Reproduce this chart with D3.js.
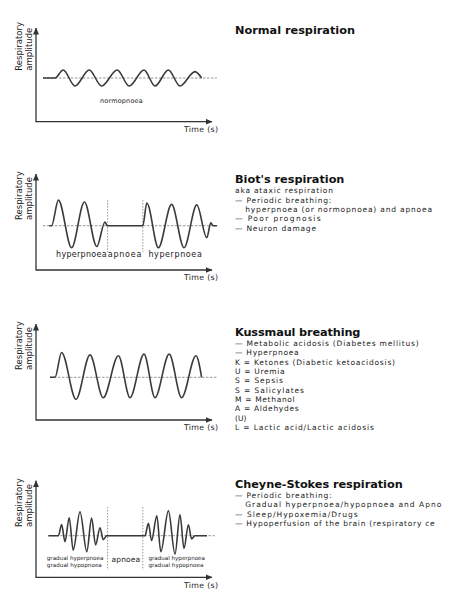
<!DOCTYPE html>
<html><head><meta charset="utf-8">
<script src="https://cdn.jsdelivr.net/npm/d3@7"></script>
<style>html,body{margin:0;padding:0;background:#fff;}svg{display:block;}</style>
</head><body>
<script>
// ---------------- DATA ----------------
// time in seconds, amplitude in "normal breath" units
const normalTime = [1.75, 4.75, 6.8, 9.75, 13.3, 16.4, 20.3, 23.3, 27, 29.75, 33.1, 36, 39.75, 41.4];
const normalAmp  = [0, 0, 1.0, -1.0, 1.0, -1.0, 1.0, -1.0, 1.0, -1.0, 1.0, -1.0, 0.8, 0];

const biotTime = [3.3, 3.9, 5.6, 8.9, 12.1, 15.2, 17.25, 17.8, 26.7, 27.7, 30.6, 33.9, 37, 40.2, 42.7, 43.7, 44.3, 45.2];
const biotAmp  = [0, 0, 3.2, -2.75, 2.96, -2.6, 0.46, 0, 0, 2.84, -2.75, 2.67, -2.75, 2.6, -1.5, 0.35, 0, 0];

const kussTime = [3.5, 4.75, 6.4, 10, 13.5, 16.8, 20.6, 23.5, 27, 29.75, 33.3, 36.4, 40, 41.4];
const kussAmp  = [0, 0, 3.1, -2.75, 2.8, -2.55, 2.7, -2.55, 2.9, -2.55, 2.9, -2.55, 2.7, 0];

const cheyneTime = [3.1, 5.6, 6.4, 7.25, 8.3, 9.3, 11, 12.7, 13.9, 14.9, 16, 16.8, 17.7, 27.25, 28.1, 28.9, 30.2, 31.2, 33.1, 34.75, 36, 37, 38.1, 38.9, 39.75, 42.75];
const cheyneAmp  = [0, 0, 1.4, -0.75, 2.25, -1.8, 3.0, -2.0, 2.2, -1.15, 1.0, -0.5, 0, 0, 1.55, -0.6, 2.5, -2.0, 3.1, -2.3, 2.6, -1.6, 1.35, -0.4, 0, 0];

const phaseDividers = [17.9, 26.7]; // start/end of apnoea (s)

const axisTitleY = ["Respiratory", "amplitude"];
const axisTitleX = "Time (s)";

const normalTitle = "Normal respiration";
const biotTitle = "Biot's respiration";
const biotNotes = ["aka ataxic respiration", "— Periodic breathing:", "hyperpnoea (or normopnoea) and apnoea", "— Poor prognosis", "— Neuron damage"];
const kussTitle = "Kussmaul breathing";
const kussNotes = ["— Metabolic acidosis (Diabetes mellitus)", "— Hyperpnoea", "K = Ketones (Diabetic ketoacidosis)", "U = Uremia", "S = Sepsis", "S = Salicylates", "M = Methanol", "A = Aldehydes", "(U)", "L = Lactic acid/Lactic acidosis"];
const cheyneTitle = "Cheyne-Stokes respiration";
const cheyneNotes = ["— Periodic breathing:", "Gradual hyperpnoea/hypopnoea and Apno", "— Sleep/Hypoxemia/Drugs", "— Hypoperfusion of the brain (respiratory ce"];

// ---------------- LAYOUT ----------------
const W = 460, H = 604;
const FONT = "'DejaVu Sans', Verdana, sans-serif";
const INK = "#222";
const svg = d3.select("body").append("svg").attr("width", W).attr("height", H);
const x = d3.scaleLinear().domain([0, 44]).range([36, 212]);

svg.append("defs").append("marker")
  .attr("id", "arrow").attr("viewBox", "0 -3 7 6").attr("refX", 6.5).attr("refY", 0)
  .attr("markerWidth", 7).attr("markerHeight", 6).attr("markerUnits", "userSpaceOnUse")
  .attr("orient", "auto")
  .append("path").attr("d", "M0,-3L7,0L0,3Z").attr("fill", "#333");

const panels = [
  { time: normalTime, amp: normalAmp, top: 28, base: 78, bottom: 121.7, labelY: 70.7, baseSpan: [1.75, 45.2],
    labels: [{ text: "normopnoea", t: 16, dy: 24.7, size: 6.5, w: 42.7 }] },
  { time: biotTime, amp: biotAmp, top: 174, base: 225.7, bottom: 270, labelY: 220, baseSpan: [1.75, 45.6],
    dividers: [3.2, -3.3],
    labels: [{ text: "hyperpnoea", t: 5, dy: 31, size: 8, w: 50.7 },
             { text: "apnoea", t: 17.95, dy: 31, size: 8, w: 33.5 },
             { text: "hyperpnoea", t: 28.1, dy: 31, size: 8, w: 53.4 }] },
  { time: kussTime, amp: kussAmp, top: 324, base: 377.3, bottom: 420, labelY: 370, baseSpan: [3.5, 45.2],
    labels: [] },
  { time: cheyneTime, amp: cheyneAmp, top: 480.7, base: 535.7, bottom: 577.3, labelY: 527, baseSpan: [3.1, 44.7],
    dividers: [3.6, -4.3],
    labels: [{ text: "gradual hyperpnoea", t: 2.7, dy: 24.3, size: 5.6, w: 56.6 },
             { text: "gradual hypopnoea", t: 2.7, dy: 31.6, size: 5.6, w: 55 },
             { text: "apnoea", t: 18.9, dy: 26, size: 7.5, w: 28.5 },
             { text: "gradual hyperpnoea", t: 28.1, dy: 24.3, size: 5.6, w: 56.6 },
             { text: "gradual hypopnoea", t: 28.1, dy: 31.6, size: 5.6, w: 55 }] }
];

function addText(g, str, xx, yy, size, weight, w, fill) {
  const t = g.append("text").attr("x", xx).attr("y", yy)
    .attr("font-family", FONT).attr("font-size", size).attr("font-weight", weight || "normal")
    .attr("fill", fill || INK).text(str);
  if (w) t.attr("textLength", w).attr("lengthAdjust", "spacing");
  return t;
}

panels.forEach(p => {
  const g = svg.append("g");
  const y = d3.scaleLinear().domain([-1, 1]).range([p.base + 8, p.base - 8]);
  const yAx = d3.scaleLinear().domain([0, 1]).range([p.bottom, p.top]);

  // baseline (dashed)
  g.append("path")
    .attr("d", d3.line().x(d => x(d)).y(() => y(0))(p.baseSpan))
    .attr("fill", "none").attr("stroke", "#8a8a8a").attr("stroke-width", 0.9)
    .attr("stroke-dasharray", "2.5,1.5");

  // dividers
  if (p.dividers) {
    phaseDividers.forEach(t => {
      g.append("path")
        .attr("d", d3.line().x(() => x(t)).y(a => y(a))(p.dividers))
        .attr("fill", "none").attr("stroke", "#7a7a7a").attr("stroke-width", 0.8)
        .attr("stroke-dasharray", "1.5,1.5");
    });
  }

  // wave
  const pts = p.time.map((t, i) => ({ t, a: p.amp[i] }));
  g.append("path")
    .attr("d", d3.line().x(d => x(d.t)).y(d => y(d.a)).curve(d3.curveMonotoneX)(pts))
    .attr("fill", "none").attr("stroke", "#3a3a3a").attr("stroke-width", 1.6)
    .attr("stroke-linejoin", "round");

  // axes
  g.append("g").attr("transform", `translate(0,${p.bottom})`)
    .call(d3.axisBottom(x).tickValues([]).tickSizeOuter(0))
    .call(a => a.select(".domain")
      .attr("d", `M${x.range()[0]},0H${x.range()[1]}`)
      .attr("stroke", "#333").attr("stroke-width", 1.3).attr("marker-end", "url(#arrow)"));
  g.append("g").attr("transform", `translate(${x.range()[0]},0)`)
    .call(d3.axisLeft(yAx).tickValues([]).tickSizeOuter(0))
    .call(a => a.select(".domain")
      .attr("d", `M0,${yAx.range()[0] + 0.6}V${yAx.range()[1]}`)
      .attr("stroke", "#333").attr("stroke-width", 1.3).attr("marker-end", "url(#arrow)"));

  // axis titles
  [22.3, 32].forEach((bx, i) => {
    g.append("text").attr("transform", `translate(${bx},${p.labelY}) rotate(-90)`)
      .attr("font-family", FONT).attr("font-size", 8.5).attr("fill", INK)
      .text(axisTitleY[i]);
  });
  addText(g, axisTitleX, x(37), p.bottom + 10.2, 7.8, "normal", 34);

  // phase labels
  p.labels.forEach(l => addText(g, l.text, x(l.t), p.base + l.dy, l.size, "normal", l.w));
});

// ---------------- RIGHT COLUMN ----------------
const blocks = [
  { title: normalTitle, titleY: 34, titleW: 120, notes: [], y0: 0, step: 0, widths: [], indent: [] },
  { title: biotTitle, titleY: 182.7, titleW: 109.4, notes: biotNotes, y0: 193.3, step: 9.35,
    widths: [98, 96.3, 186.7, 85.7, 81], indent: [2] },
  { title: kussTitle, titleY: 335.7, titleW: 125.4, notes: kussNotes, y0: 346, step: 9.35,
    widths: [183.7, 63.7, 160, 49.7, 48, 69, 59.7, 63.7, null, 139], indent: [] },
  { title: cheyneTitle, titleY: 488.3, titleW: 167.7, notes: cheyneNotes, y0: 498.3, step: 9.15,
    widths: [96.7, 196, 122.7, 199.7], indent: [1] }
];
const rg = svg.append("g");
blocks.forEach(b => {
  addText(rg, b.title, 235, b.titleY, 11.3, "bold", b.titleW, "#111");
  b.notes.forEach((s, i) => {
    const xx = b.indent.includes(i) ? 245.3 : 235;
    addText(rg, s, xx, b.y0 + i * b.step, 7.5, "normal", b.widths[i]);
  });
});
</script>
</body></html>
